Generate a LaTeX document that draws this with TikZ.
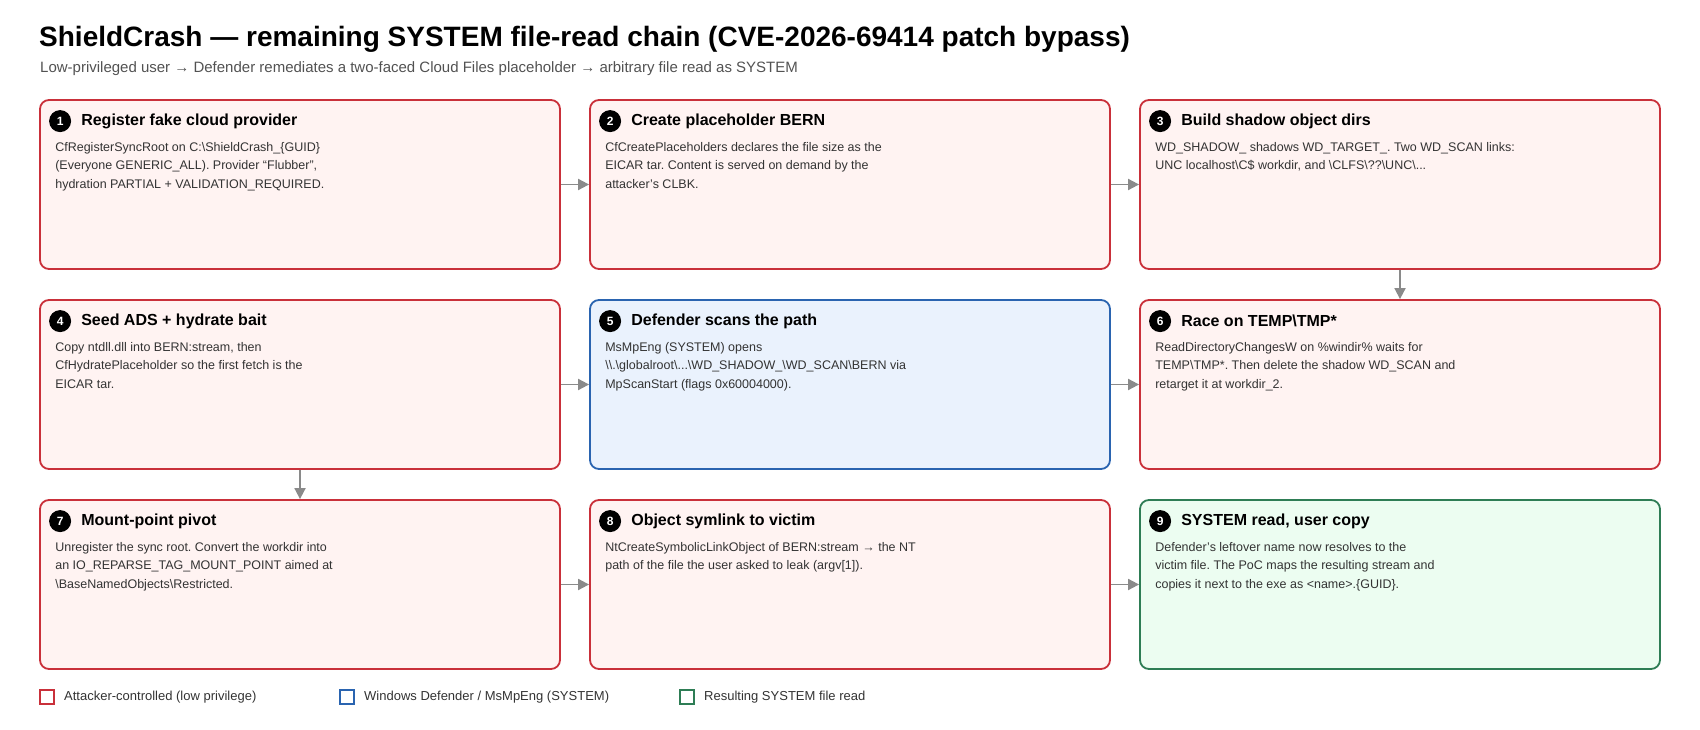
\documentclass[tikz,border=0pt]{standalone}
\usepackage{fontspec}
\setmainfont{Liberation Sans}
\usetikzlibrary{arrows.meta}
\frenchspacing
\definecolor{redb}{HTML}{C9303A}\definecolor{redf}{HTML}{FFF3F2}
\definecolor{blueb}{HTML}{2A64B0}\definecolor{bluef}{HTML}{EAF2FD}
\definecolor{greenb}{HTML}{2E7D55}\definecolor{greenf}{HTML}{ECFDF1}
\definecolor{txt}{HTML}{333333}\definecolor{arr}{HTML}{8A8A8A}
\begin{document}
\begin{tikzpicture}[x=1pt,y=-1pt,
  box/.style={draw=#1b,fill=#1f,line width=1.8pt,rounded corners=9pt,minimum width=520pt,minimum height=169pt,inner sep=0pt},
  num/.style={circle,fill=black,text=white,minimum size=22pt,inner sep=0pt,font=\fontsize{12}{12}\selectfont\bfseries},
  head/.style={anchor=west,inner sep=0pt,font=\fontsize{16}{18}\selectfont\bfseries},
  body/.style={anchor=north west,inner sep=0pt,align=left,text=txt,font=\fontsize{12.5}{18.5}\selectfont},
  con/.style={draw=arr,line width=1.8pt,-{Triangle[length=11pt,width=11pt]}},
  leg/.style={draw=#1,line width=1.6pt,minimum size=14pt,inner sep=0pt}]
\useasboundingbox (0,0) rectangle (1700,730);
\node[anchor=west,inner sep=0pt,font=\fontsize{28}{30}\selectfont\bfseries] (title) at (39,39) {ShieldCrash — remaining SYSTEM file-read chain (CVE-2026-69414 patch bypass)};
\node[anchor=west,inner sep=0pt,text=txt!85,font=\fontsize{15}{17}\selectfont] (sub) at (40,69) {Low-privileged user → Defender remediates a two-faced Cloud Files placeholder → arbitrary file read as SYSTEM};
% boxes
\node[box=red] (b1) at (300,184.5) {};
\node[box=red] (b2) at (850,184.5) {};
\node[box=red] (b3) at (1400,184.5) {};
\node[box=red] (b4) at (300,384.5) {};
\node[box=blue] (b5) at (850,384.5) {};
\node[box=red] (b6) at (1400,384.5) {};
\node[box=red] (b7) at (300,584.5) {};
\node[box=red] (b8) at (850,584.5) {};
\node[box=green] (b9) at (1400,584.5) {};
\newcommand{\mybox}[4]{%
 \node[num] (n#1) at ([xshift=21pt,yshift=-22pt]#2.north west) {#1};
 \node[head] (h#1) at ([xshift=42pt,yshift=-22pt]#2.north west) {#3};
 \node[body] (t#1) at ([xshift=16pt,yshift=-43pt]#2.north west) {#4};}
\mybox{1}{b1}{Register fake cloud provider}{CfRegisterSyncRoot on C:\textbackslash ShieldCrash\_\{GUID\}\\(Everyone GENERIC\_ALL). Provider “Flubber”,\\hydration PARTIAL + VALIDATION\_REQUIRED.}
\mybox{2}{b2}{Create placeholder BERN}{CfCreatePlaceholders declares the file size as the\\EICAR tar. Content is served on demand by the\\attacker’s CLBK.}
\mybox{3}{b3}{Build shadow object dirs}{WD\_SHADOW\_ shadows WD\_TARGET\_. Two WD\_SCAN links:\\UNC localhost\textbackslash C\$ workdir, and \textbackslash CLFS\textbackslash ??\textbackslash UNC\textbackslash ...}
\mybox{4}{b4}{Seed ADS + hydrate bait}{Copy ntdll.dll into BERN:stream, then\\CfHydratePlaceholder so the first fetch is the\\EICAR tar.}
\mybox{5}{b5}{Defender scans the path}{MsMpEng (SYSTEM) opens\\\textbackslash\textbackslash .\textbackslash globalroot\textbackslash ...\textbackslash WD\_SHADOW\_\textbackslash WD\_SCAN\textbackslash BERN via\\MpScanStart (flags 0x60004000).}
\mybox{6}{b6}{Race on TEMP\textbackslash TMP*}{ReadDirectoryChangesW on \%windir\% waits for\\TEMP\textbackslash TMP*. Then delete the shadow WD\_SCAN and\\retarget it at workdir\_2.}
\mybox{7}{b7}{Mount-point pivot}{Unregister the sync root. Convert the workdir into\\an IO\_REPARSE\_TAG\_MOUNT\_POINT aimed at\\\textbackslash BaseNamedObjects\textbackslash Restricted.}
\mybox{8}{b8}{Object symlink to victim}{NtCreateSymbolicLinkObject of BERN:stream → the NT\\path of the file the user asked to leak (argv[1]).}
\mybox{9}{b9}{SYSTEM read, user copy}{Defender’s leftover name now resolves to the\\victim file. The PoC maps the resulting stream and\\copies it next to the exe as <name>.\{GUID\}.}
% connectors
\draw[con] (b1.east) -- (b2.west);
\draw[con] (b2.east) -- (b3.west);
\draw[con] (b3.south) -- (b6.north);
\draw[con] (b4.east) -- (b5.west);
\draw[con] (b5.east) -- (b6.west);
\draw[con] (b4.south) -- (b7.north);
\draw[con] (b7.east) -- (b8.west);
\draw[con] (b8.east) -- (b9.west);
% legend
\node[leg=redb] (l1) at (47,697) {};
\node[anchor=west,inner sep=0pt,text=txt,font=\fontsize{13}{15}\selectfont] (lt1) at (64,697) {Attacker-controlled (low privilege)};
\node[leg=blueb] (l2) at (347,697) {};
\node[anchor=west,inner sep=0pt,text=txt,font=\fontsize{13}{15}\selectfont] (lt2) at (364,697) {Windows Defender / MsMpEng (SYSTEM)};
\node[leg=greenb] (l3) at (687,697) {};
\node[anchor=west,inner sep=0pt,text=txt,font=\fontsize{13}{15}\selectfont] (lt3) at (704,697) {Resulting SYSTEM file read};
\end{tikzpicture}
\end{document}
